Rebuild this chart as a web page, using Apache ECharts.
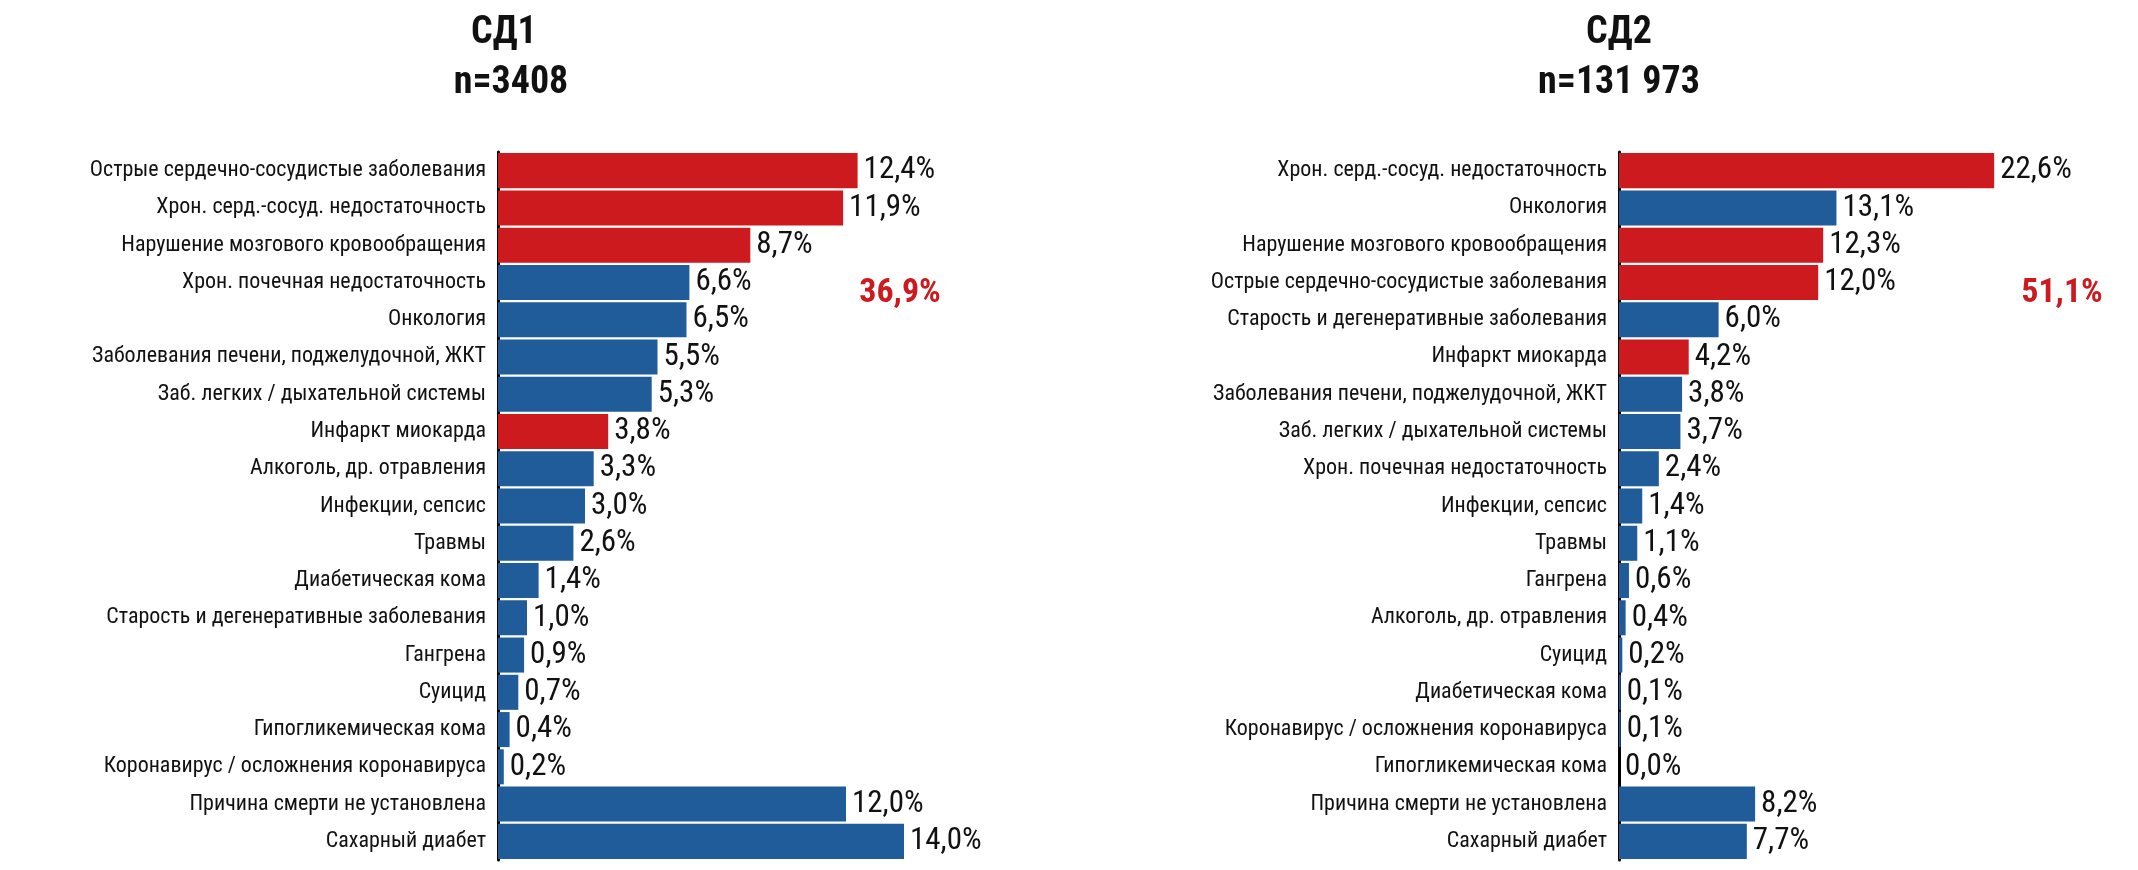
<!DOCTYPE html>
<html>
<head>
<meta charset="utf-8">
<script src="https://cdn.jsdelivr.net/npm/echarts@6/dist/echarts.min.js"></script>
<style>html,body{margin:0;padding:0;background:#fff}#c{width:2138px;height:870px}</style>
</head>
<body>
<div id="c"></div>
<script>
var fnt = '"Liberation Sans Narrow", "Roboto Condensed", "DejaVu Sans Condensed", sans-serif';
var RED = '#cc1a1f', BLUE = '#1f5c99';

var cats1 = ['Острые сердечно-сосудистые заболевания','Хрон. серд.-сосуд. недостаточность','Нарушение мозгового кровообращения','Хрон. почечная недостаточность','Онкология','Заболевания печени, поджелудочной, ЖКТ','Заб. легких / дыхательной системы','Инфаркт миокарда','Алкоголь, др. отравления','Инфекции, сепсис','Травмы','Диабетическая кома','Старость и дегенеративные заболевания','Гангрена','Суицид','Гипогликемическая кома','Коронавирус / осложнения коронавируса','Причина смерти не установлена','Сахарный диабет'];
var vals1 = [12.4,11.9,8.7,6.6,6.5,5.5,5.3,3.8,3.3,3.0,2.6,1.4,1.0,0.9,0.7,0.4,0.2,12.0,14.0];
var red1 = [0,1,2,7];

var cats2 = ['Хрон. серд.-сосуд. недостаточность','Онкология','Нарушение мозгового кровообращения','Острые сердечно-сосудистые заболевания','Старость и дегенеративные заболевания','Инфаркт миокарда','Заболевания печени, поджелудочной, ЖКТ','Заб. легких / дыхательной системы','Хрон. почечная недостаточность','Инфекции, сепсис','Травмы','Гангрена','Алкоголь, др. отравления','Суицид','Диабетическая кома','Коронавирус / осложнения коронавируса','Гипогликемическая кома','Причина смерти не установлена','Сахарный диабет'];
var vals2 = [22.6,13.1,12.3,12.0,6.0,4.2,3.8,3.7,2.4,1.4,1.1,0.6,0.4,0.2,0.1,0.1,0.0,8.2,7.7];
var red2 = [0,2,3,5];

function mk(vals, reds) {
  return vals.map(function (v, i) {
    return {value: v, itemStyle: {color: reds.indexOf(i) >= 0 ? RED : BLUE}};
  });
}
function fmt(p) { return p.value.toFixed(1).replace('.', ',') + '%'; }

var grids = [
  {left: 498, top: 152, width: 580, height: 708},
  {left: 1619, top: 152, width: 498, height: 708}
];
var chart = echarts.init(document.getElementById('c'));
var xa = [], ya = [], ser = [];
[[cats1, vals1, red1, 20], [cats2, vals2, red2, 30]].forEach(function (d, k) {
  xa.push({gridIndex: k, type: 'value', min: 0, max: d[3], show: false});
  ya.push({gridIndex: k, type: 'category', inverse: true, data: d[0],
    axisLine: {lineStyle: {color: '#000', width: 3}}, axisTick: {show: false},
    axisLabel: {fontFamily: fnt, fontSize: 22, color: '#111', margin: 12}});
  ser.push({type: 'bar', xAxisIndex: k, yAxisIndex: k, data: mk(d[1], d[2]), barCategoryGap: '6%',
    label: {show: true, position: 'right', formatter: fmt, fontFamily: fnt, fontSize: 31, color: '#111', distance: 6}});
});

chart.setOption({
  animation: false,
  grid: grids, xAxis: xa, yAxis: ya, series: ser,
  graphic: [
    {type: 'text', left: 511 - 40, top: 14, style: {text: 'СД1', font: 'bold 38px ' + fnt, fill: '#111', textAlign: 'center', x: 40}},
    {type: 'text', x: 511, y: 64, style: {text: 'n=3408', font: 'bold 38px ' + fnt, fill: '#111', textAlign: 'center'}},
    {type: 'text', x: 1619, y: 14, style: {text: 'СД2', font: 'bold 38px ' + fnt, fill: '#111', textAlign: 'center'}},
    {type: 'text', x: 1619, y: 64, style: {text: 'n=131 973', font: 'bold 38px ' + fnt, fill: '#111', textAlign: 'center'}},
    {type: 'text', x: 900, y: 276, style: {text: '36,9%', font: 'bold 34px ' + fnt, fill: RED, textAlign: 'center'}},
    {type: 'text', x: 2062, y: 276, style: {text: '51,1%', font: 'bold 34px ' + fnt, fill: RED, textAlign: 'center'}}
  ]
});
</script>
</body>
</html>
